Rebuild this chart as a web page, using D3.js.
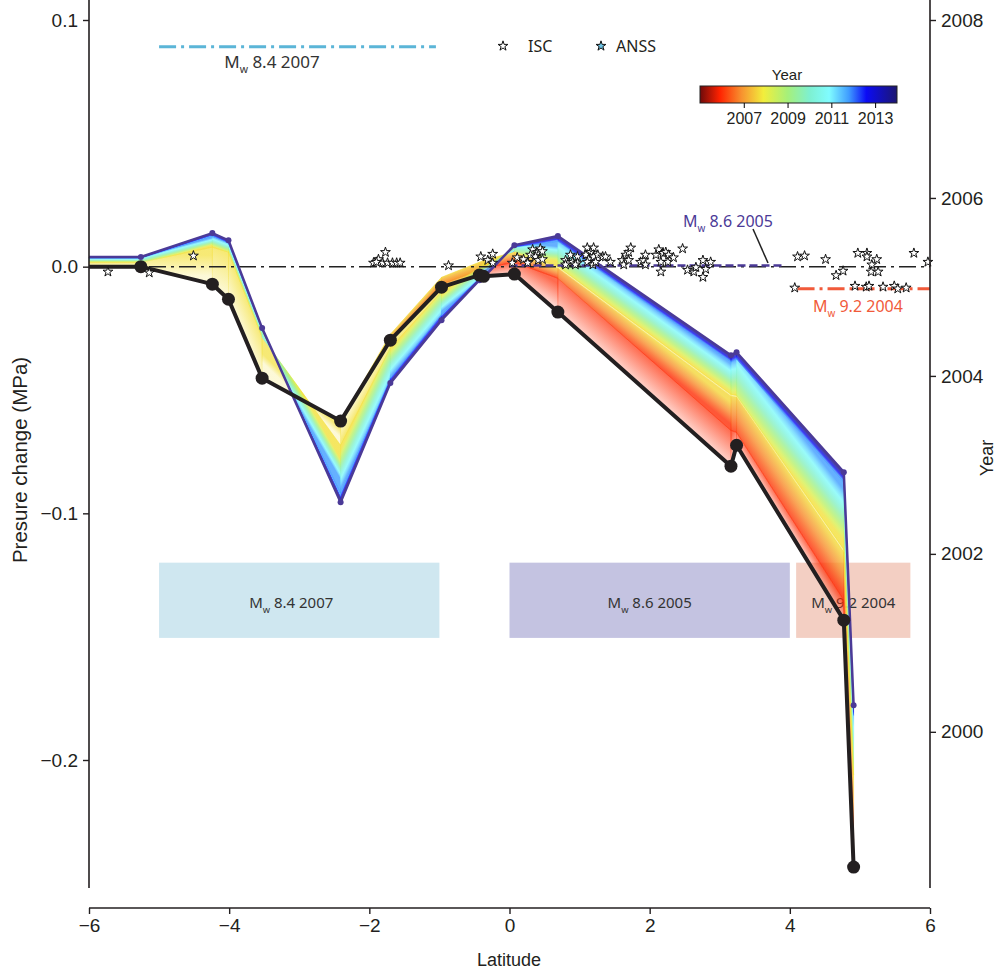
<!DOCTYPE html>
<html>
<head>
<meta charset="utf-8">
<script src="https://cdn.jsdelivr.net/npm/d3@7"></script>
<style>
  body { margin: 0; background: #fff; }
  svg text { font-family: "Liberation Sans", Arial, sans-serif; fill: #231f20; }
  svg text.mw { font-family: "Noto Sans", "Open Sans", sans-serif; }
</style>
</head>
<body>
<div id="chart"></div>
<script>
// node latitudes of the pressure profiles
const latitudes = [-6, -5.26, -4.24, -4.01, -3.53, -2.41, -1.70, -0.97, -0.43, -0.37, 0.07, 0.69, 3.16, 3.24, 4.77, 4.91]

// pressure change (MPa) at each node, one profile per key time
const pressureBefore   = [0, 0, -0.0071, -0.0132, -0.0452, -0.0626, -0.0298, -0.0083, -0.0034, -0.0039, -0.0030, -0.0184, -0.0809, -0.0724, -0.1433, -0.2434]
const pressure2006     = [0, 0, -0.0071, -0.0132, -0.0452, -0.0626, -0.0298, -0.0071, -0.0014, -0.0006, 0.0018, -0.0047, -0.0664, -0.0672, -0.1352, -0.2325]
const pressurePre2007  = [0, 0, -0.0071, -0.0132, -0.0452, -0.0626, -0.0274, -0.0043, 0.0018, 0.0026, 0.0059, -0.0006, -0.0525, -0.0529, -0.1157, -0.2082]
const pressurePost2007 = [0.0018, 0.0018, 0.0079, 0.0059, -0.0286, -0.0724, -0.0330, -0.0103, -0.0006, 0.0014, 0.0063, 0.0002, -0.0517, -0.0521, -0.1145, -0.2061]
const pressure2012     = [0.0034, 0.0034, 0.0124, 0.0095, -0.0257, -0.0918, -0.0452, -0.0193, -0.0047, -0.0034, 0.0079, 0.0103, -0.0387, -0.0375, -0.0874, -0.1820]
const pressure2014     = [0.0039, 0.0039, 0.0136, 0.0107, -0.0249, -0.0955, -0.0472, -0.0217, -0.0055, -0.0043, 0.0087, 0.0124, -0.0359, -0.0347, -0.0833, -0.1778]
const profileYears     = [2005.0, 2006.0, 2007.65, 2007.75, 2011.8, 2014.0]
const jumpSteps        = [true, false, true, false, false]

// aftershocks [latitude, year]
const iscStars = [
  [-5.73,2005.17],[-5.14,2005.16],[-4.51,2005.35],[-1.77,2005.39],[-1.87,2005.31],[-1.94,2005.27],[-1.81,2005.27],
  [-1.74,2005.27],[-1.67,2005.27],[-1.61,2005.27],[-1.56,2005.27],[-1.90,2005.28],
  [-0.87,2005.24],[-0.41,2005.34],[-0.31,2005.30],[-0.24,2005.37],[-0.24,2005.27],[0.04,2005.27],[0.11,2005.33],
  [0.26,2005.28],[0.33,2005.42],[0.40,2005.39],[0.44,2005.43],[0.30,2005.36],[0.37,2005.34],[0.41,2005.30],
  [0.20,2005.31],[0.26,2005.27],[0.47,2005.40],[0.47,2005.31],[0.80,2005.30],[0.84,2005.27],[0.80,2005.25],
  [0.87,2005.36],[0.90,2005.28],[0.97,2005.34],[0.97,2005.27],[0.94,2005.25],
  [1.11,2005.44],[1.16,2005.39],[1.20,2005.44],[1.09,2005.36],[1.13,2005.31],[1.20,2005.34],[1.11,2005.28],
  [1.19,2005.25],[1.26,2005.36],[1.33,2005.34],[1.23,2005.28],[1.37,2005.34],[1.44,2005.28],
  [1.61,2005.30],[1.63,2005.25],[1.66,2005.36],[1.70,2005.39],[1.73,2005.44],[1.70,2005.30],[1.87,2005.28],
  [1.91,2005.30],[1.94,2005.36],[1.94,2005.25],
  [2.09,2005.36],[2.13,2005.42],[2.19,2005.38],[2.23,2005.39],[2.16,2005.28],[2.16,2005.17],[2.26,2005.28],
  [2.27,2005.36],[2.34,2005.33],[2.47,2005.43],[2.54,2005.19],[2.63,2005.17],[2.66,2005.22],[2.76,2005.30],
  [2.80,2005.20],[2.76,2005.11],[2.87,2005.28],
  [4.11,2005.34],[4.21,2005.35],[4.51,2005.31],[4.66,2005.13],[4.76,2005.18],[4.97,2005.38],[5.10,2005.38],
  [5.10,2005.34],[5.24,2005.31],[5.17,2005.25],[5.16,2005.17],[5.26,2005.17],[5.77,2005.38],[5.97,2005.28],
  [4.07,2004.99],[4.93,2005.01],[5.09,2005.00],[5.13,2005.01],[5.33,2005.00],[5.49,2005.01],[5.54,2004.98],[5.66,2004.99]
]
const anssStars = []

// ruptures: name, latitude extent, year, label boxes
const ruptureNames  = ['8.4 2007', '8.6 2005', '9.2 2004']
const ruptureLat    = [[-5, -1.05], [0, 3.9], [4.11, 6]]
const ruptureYears  = [2007.70, 2005.24, 2004.98]
const boxLat        = [[-5, -1], [0, 4], [4.09, 5.72]]
const boxPressure   = [-0.1505, -0.120]

const xTicks     = [-6, -4, -2, 0, 2, 4, 6]
const yTicks     = [0.1, 0, -0.1, -0.2]
const yearTicks  = [2000, 2002, 2004, 2006, 2008]
const cbarTicks  = [2007, 2009, 2011, 2013]

// colour map (Year)
const cmapYears  = [2005.0, 2005.9, 2006.9, 2007.9, 2009.0, 2010.0, 2010.9, 2011.8, 2012.6, 2014.0]
const cmapColors = ['#6e0a0a', '#ff2200', '#f7922f', '#f2ee3c', '#a6f07a', '#7ef0d0', '#80fcff', '#3f9cff', '#0b0bf5', '#1c1670']
const cmap = d3.scaleLinear().domain(cmapYears).range(cmapColors).clamp(true)

const ruptureColors = ['#5bb5d7', '#4b3a97', '#f15a3a']
const boxColors     = ['#cfe7f0', '#c4c3e1', '#f3cfc3']

const W = 996, H = 971
const svg = d3.select('#chart').append('svg').attr('width', W).attr('height', H)
const defs = svg.append('defs')

const x = d3.scaleLinear().domain([-6, 6]).range([89, 930])
const y = d3.scaleLinear().domain([-0.26, 0.1]).range([908, 20])
const yr = d3.scaleLinear().domain([1998.02, 2008]).range([908, 20])

function mwLabel(g, px, py, txt, color, size, anchor) {
  const t = g.append('text').attr('class', 'mw').attr('x', px).attr('y', py)
    .attr('text-anchor', anchor || 'middle').style('font-size', size + 'px').style('fill', color)
  t.append('tspan').text('M')
  t.append('tspan').attr('dy', size * 0.3).style('font-size', (size * 0.62) + 'px').text('w')
  t.append('tspan').attr('dy', -size * 0.3).text(' ' + txt)
  return t
}

// rupture boxes
const boxes = svg.append('g')
ruptureNames.forEach((nm, i) => {
  boxes.append('rect')
    .attr('x', x(boxLat[i][0])).attr('y', y(boxPressure[1]))
    .attr('width', x(boxLat[i][1]) - x(boxLat[i][0]))
    .attr('height', y(boxPressure[0]) - y(boxPressure[1]))
    .attr('fill', boxColors[i])
  mwLabel(boxes, (x(boxLat[i][0]) + x(boxLat[i][1])) / 2 - (i === 0 ? 8 : 0), y(-0.1385), nm, '#333', 15)
})

// rainbow band: one quad per time step and segment, coloured along the time axis
const profiles = [pressureBefore, pressure2006, pressurePre2007, pressurePost2007, pressure2012, pressure2014]
const band = svg.append('g')
let gid = 0
for (let k = 0; k < profiles.length - 1; k++) {
  const p0 = profiles[k], p1 = profiles[k + 1]
  const y0 = profileYears[k], y1 = profileYears[k + 1]
  for (let i = 0; i < latitudes.length - 1; i++) {
    const A = [x(latitudes[i]), y(p0[i])], B = [x(latitudes[i + 1]), y(p0[i + 1])]
    const C = [x(latitudes[i + 1]), y(p1[i + 1])], D = [x(latitudes[i]), y(p1[i])]
    if (Math.abs(A[1] - D[1]) < 0.4 && Math.abs(B[1] - C[1]) < 0.4) continue
    let ux = (B[0] - A[0]) + (C[0] - D[0]), uy = (B[1] - A[1]) + (C[1] - D[1])
    const len = Math.hypot(ux, uy); ux /= len; uy /= len
    const nx = -uy, ny = ux
    const m0 = [(A[0] + B[0]) / 2, (A[1] + B[1]) / 2], m1 = [(C[0] + D[0]) / 2, (C[1] + D[1]) / 2]
    const s = (m1[0] - m0[0]) * nx + (m1[1] - m0[1]) * ny
    let g0, g1
    if (Math.abs(s) > 1) {
      g0 = m0; g1 = [m0[0] + nx * s, m0[1] + ny * s]
    } else if (Math.abs(A[1] - D[1]) > Math.abs(B[1] - C[1])) {
      g0 = A; g1 = D
    } else {
      g0 = B; g1 = C
    }
    const id = 'q' + (gid++)
    const grad = defs.append('linearGradient').attr('id', id).attr('gradientUnits', 'userSpaceOnUse')
      .attr('x1', g0[0]).attr('y1', g0[1]).attr('x2', g1[0]).attr('y2', g1[1])
    d3.range(0, 1.0001, 0.125).forEach(t => {
      // a jump (coseismic step) is drawn in the colour of its end time, fading toward the start
      grad.append('stop').attr('offset', t)
        .attr('stop-color', jumpSteps[k] ? cmap(y1) : cmap(y0 + t * (y1 - y0)))
        .attr('stop-opacity', jumpSteps[k] ? 0.2 + 0.5 * t : 0.8)
    })
    band.append('path')
      .attr('d', 'M' + [A, B, C, D].map(p => p.join(',')).join('L') + 'Z')
      .attr('fill', `url(#${id})`)
      .attr('stroke', `url(#${id})`).attr('stroke-width', 0.6)
  }
}

// zero line
svg.append('line').attr('x1', x(-6)).attr('x2', x(6)).attr('y1', y(0)).attr('y2', y(0))
  .attr('stroke', '#222').attr('stroke-width', 1.5).attr('stroke-dasharray', '17,5,3,5')

// rupture extents on the year axis
ruptureNames.forEach((nm, i) => {
  svg.append('line')
    .attr('x1', x(ruptureLat[i][0])).attr('x2', x(ruptureLat[i][1]))
    .attr('y1', yr(ruptureYears[i])).attr('y2', yr(ruptureYears[i]))
    .attr('stroke', ruptureColors[i]).attr('stroke-width', i === 1 ? 2.5 : 3)
    .attr('stroke-dasharray', i === 1 ? '8,4' : '17,5,3,5')
})
mwLabel(svg, 272, 68, ruptureNames[0], '#333', 17)
mwLabel(svg, 683, 227, ruptureNames[1], ruptureColors[1], 16, 'start')
mwLabel(svg, 813, 312, ruptureNames[2], ruptureColors[2], 16, 'start')
svg.append('line').attr('x1', 753).attr('y1', 229).attr('x2', 768).attr('y2', 263)
  .attr('stroke', '#222').attr('stroke-width', 1.5)

// final (2014) profile outline
const line = d3.line().x((d, i) => x(latitudes[i])).y(d => y(d))
svg.append('path').attr('d', line(pressure2014)).attr('fill', 'none')
  .attr('stroke', '#4b3a97').attr('stroke-width', 2.5).attr('stroke-linejoin', 'round')
svg.append('g').selectAll('circle').data(pressure2014.slice(1)).join('circle')
  .attr('cx', (d, i) => x(latitudes[i + 1])).attr('cy', d => y(d)).attr('r', 3).attr('fill', '#4b3a97')

// initial profile
svg.append('path').attr('d', line(pressureBefore)).attr('fill', 'none')
  .attr('stroke', '#231f20').attr('stroke-width', 4).attr('stroke-linejoin', 'round')
svg.append('g').selectAll('circle').data(pressureBefore.slice(1)).join('circle')
  .attr('cx', (d, i) => x(latitudes[i + 1])).attr('cy', d => y(d)).attr('r', 6.5).attr('fill', '#231f20')

// aftershocks
const star = d3.symbol(d3.symbolStar, 30)
svg.append('g').selectAll('path').data(iscStars).join('path')
  .attr('d', star).attr('transform', d => `translate(${x(d[0])},${yr(d[1])})`)
  .attr('fill', '#fff').attr('stroke', '#111').attr('stroke-width', 1)
svg.append('g').selectAll('path').data(anssStars).join('path')
  .attr('d', star).attr('transform', d => `translate(${x(d[0])},${yr(d[1])})`)
  .attr('fill', '#6cc4e6').attr('stroke', '#111').attr('stroke-width', 1)

// legend
svg.append('path').attr('d', star).attr('transform', 'translate(503,46)')
  .attr('fill', '#fff').attr('stroke', '#111').attr('stroke-width', 1)
svg.append('text').attr('class', 'mw').attr('x', 528).attr('y', 52).style('font-size', '16px').text('ISC')
svg.append('path').attr('d', star).attr('transform', 'translate(601,46)')
  .attr('fill', '#6cc4e6').attr('stroke', '#111').attr('stroke-width', 1)
svg.append('text').attr('class', 'mw').attr('x', 616).attr('y', 52).style('font-size', '16px').text('ANSS')

// colour bar
const cb = d3.scaleLinear().domain([2005, 2014]).range([700, 897])
const cbGrad = defs.append('linearGradient').attr('id', 'cbar')
cmapYears.forEach((v, i) => cbGrad.append('stop').attr('offset', (v - 2005) / 9).attr('stop-color', cmapColors[i]))
svg.append('rect').attr('x', 700).attr('y', 86).attr('width', 197).attr('height', 17)
  .attr('fill', 'url(#cbar)').attr('stroke', '#222').attr('stroke-width', 1)
svg.append('text').attr('x', 787).attr('y', 80).attr('text-anchor', 'middle').style('font-size', '15px').text('Year')
const cbAxis = svg.append('g').attr('transform', 'translate(0,103)')
  .call(d3.axisBottom(cb).tickValues(cbarTicks).tickFormat(d3.format('d')).tickSize(5).tickPadding(5))
cbAxis.select('.domain').remove()
cbAxis.selectAll('text').style('font-size', '16px')

// axes
const ax = svg.append('g').attr('transform', 'translate(0,908)')
  .call(d3.axisBottom(x).tickValues(xTicks).tickSize(6).tickPadding(5))
const ay = svg.append('g').attr('transform', 'translate(89,0)')
  .call(d3.axisLeft(y).tickValues(yTicks).tickFormat(d3.format('.1f')).tickSize(6).tickPadding(5))
const ar = svg.append('g').attr('transform', 'translate(930,0)')
  .call(d3.axisRight(yr).tickValues(yearTicks).tickFormat(d3.format('d')).tickSize(6).tickPadding(5))
;[ax, ay, ar].forEach(a => {
  a.selectAll('.domain').attr('stroke', '#231f20').attr('stroke-width', 1.6)
  a.selectAll('.tick line').attr('stroke', '#231f20').attr('stroke-width', 1.4)
  a.selectAll('text').style('font-size', '19px').style('fill', '#231f20')
})
ax.select('.domain').attr('d', 'M89,0H930')
ay.select('.domain').attr('d', 'M0,888V0')
ar.select('.domain').attr('d', 'M0,888V0')

svg.append('text').attr('x', 509).attr('y', 966).attr('text-anchor', 'middle').style('font-size', '18px').text('Latitude')
svg.append('text').attr('transform', 'translate(27,460) rotate(-90)').attr('text-anchor', 'middle')
  .style('font-size', '20.5px').text('Presure change (MPa)')
svg.append('text').attr('transform', 'translate(993,458) rotate(-90)').attr('text-anchor', 'middle')
  .style('font-size', '18px').text('Year')
</script>
</body>
</html>
